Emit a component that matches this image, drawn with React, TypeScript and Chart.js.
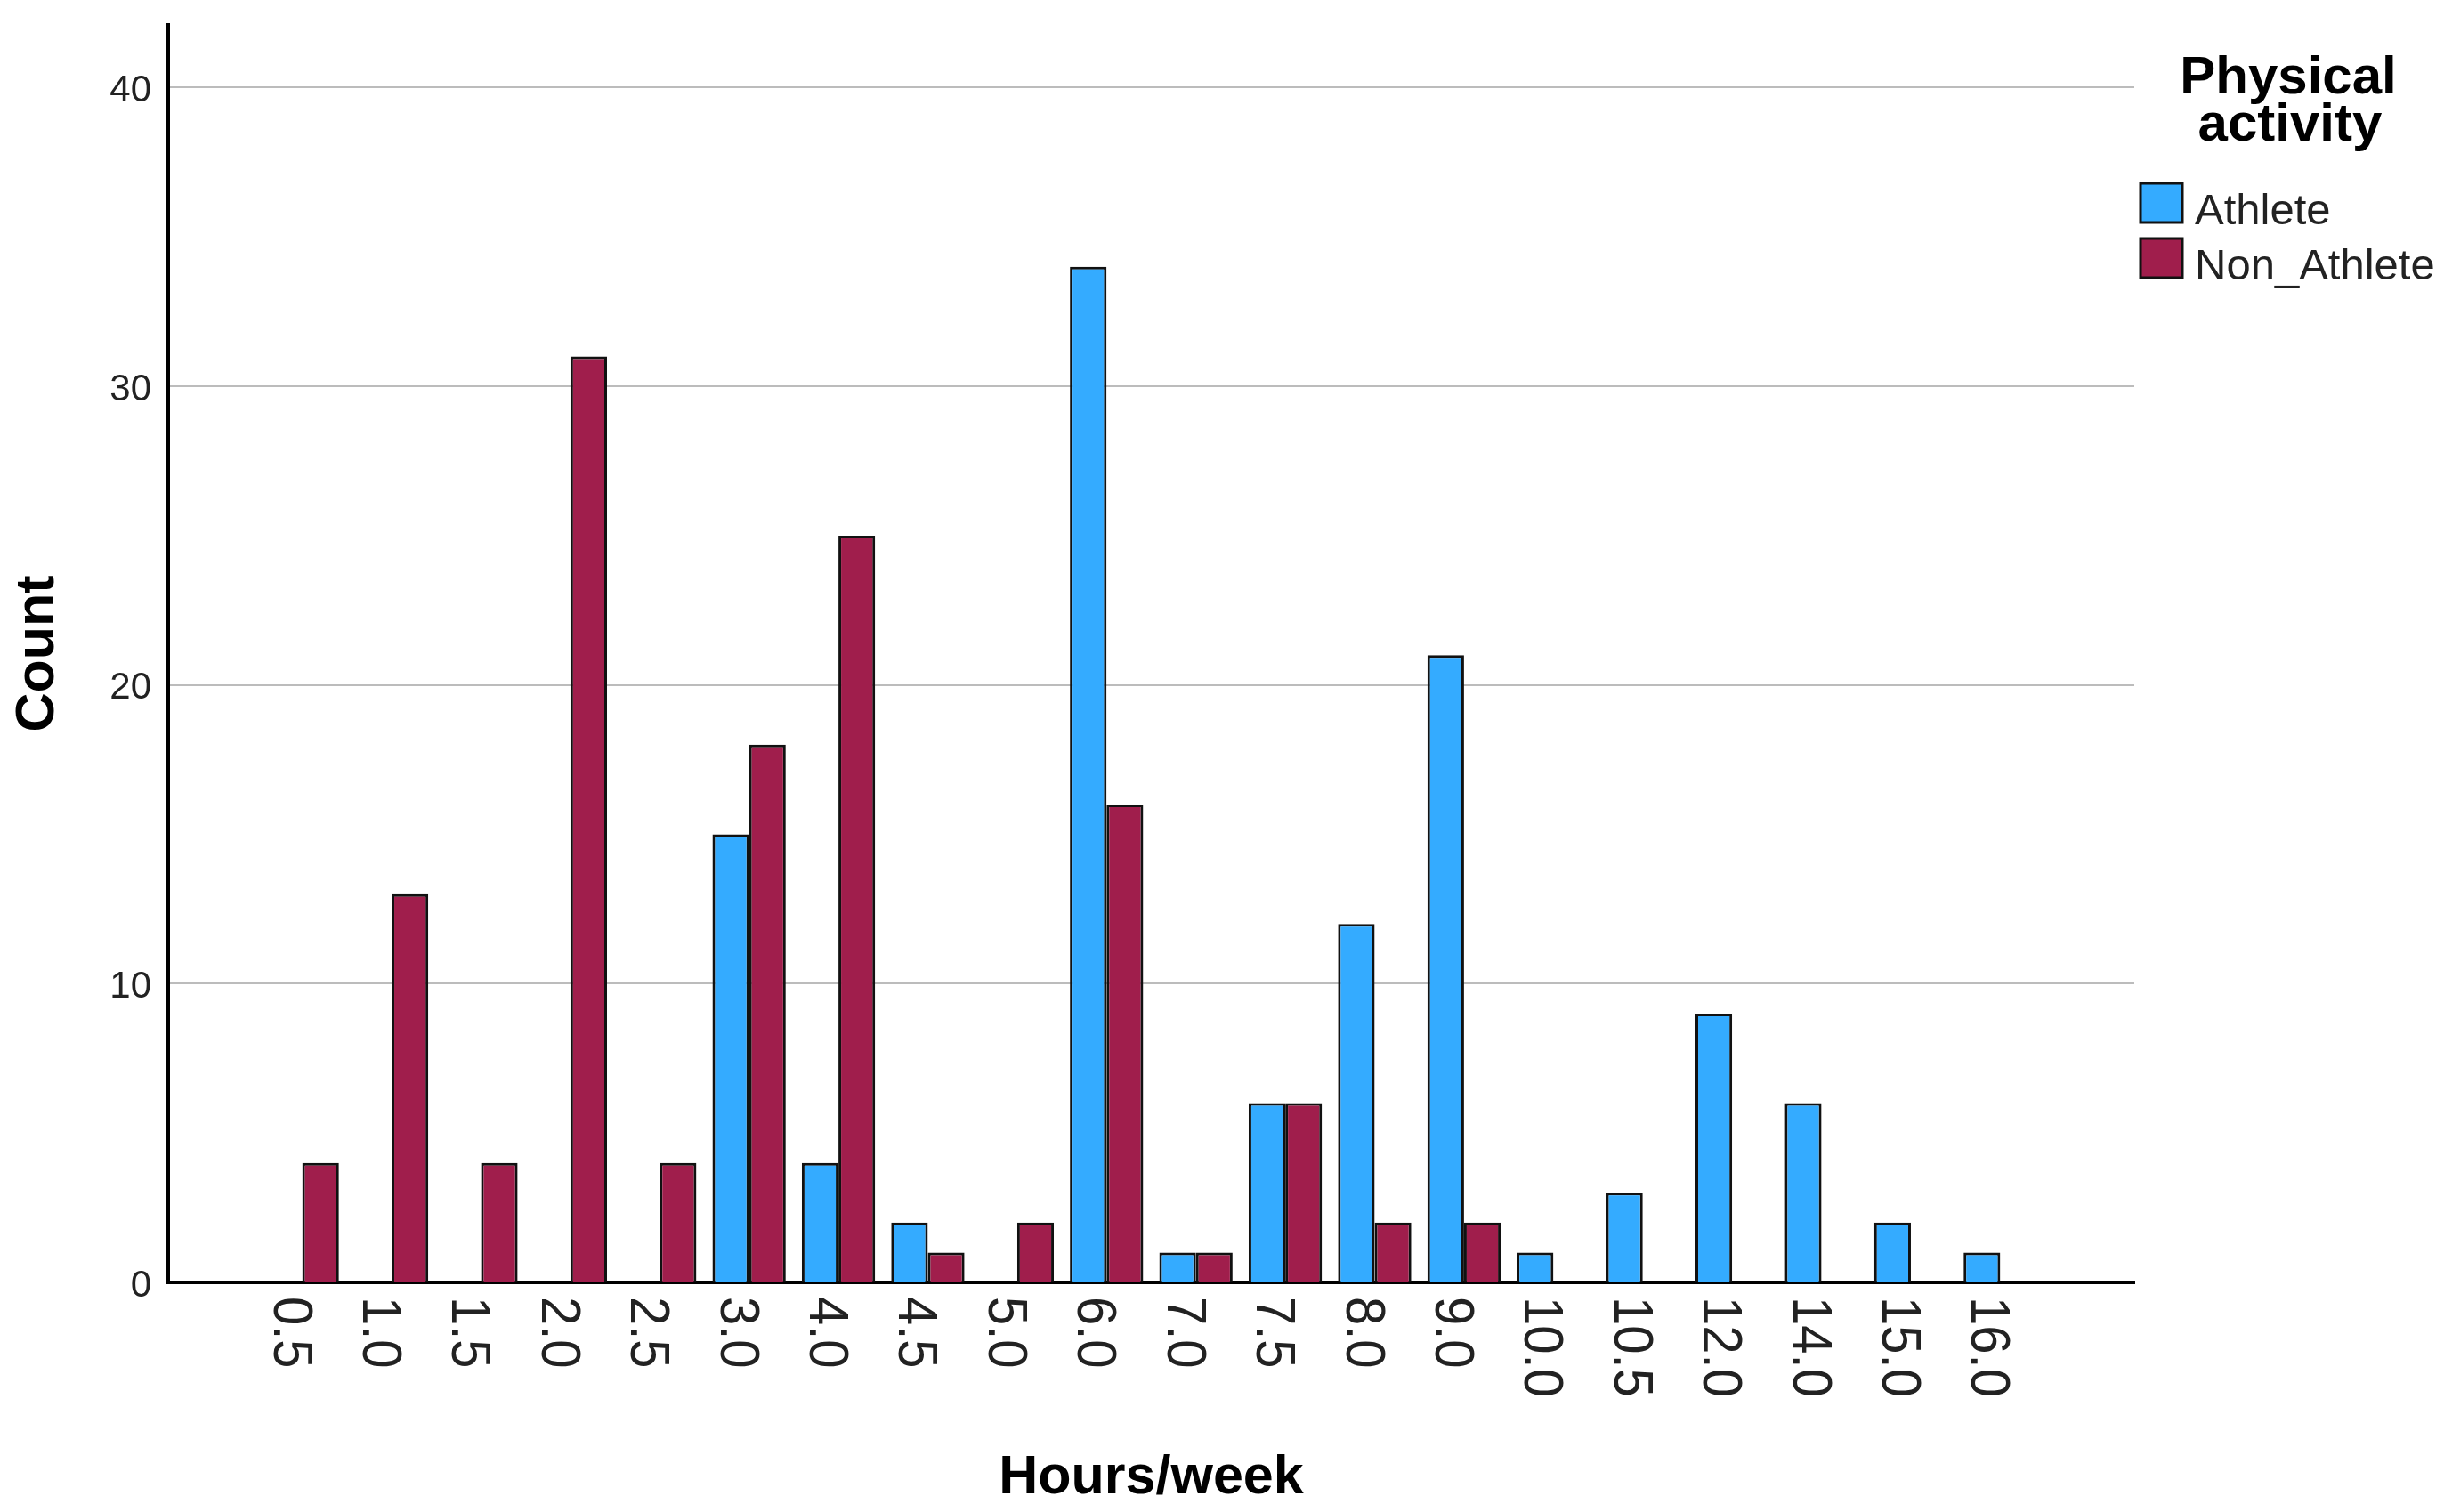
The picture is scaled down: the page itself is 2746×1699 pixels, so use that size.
import React, { useEffect, useRef } from 'react';
import { Chart, registerables } from 'chart.js';

Chart.register(...registerables);

// ---- Data ----
const categories = ['0.5', '1.0', '1.5', '2.0', '2.5', '3.0', '4.0', '4.5', '5.0', '6.0', '7.0', '7.5', '8.0', '9.0', '10.0', '10.5', '12.0', '14.0', '15.0', '16.0'];
const athlete = [null, null, null, null, null, 15, 4, 2, null, 34, 1, 6, 12, 21, 1, 3, 9, 6, 2, 1];
const nonAthlete = [4, 13, 4, 31, 4, 18, 25, 1, 2, 16, 1, 6, 2, 2, null, null, null, null, null, null];
const yTicks = [0, 10, 20, 30, 40];
const seriesNames = ['Athlete', 'Non_Athlete'];
const seriesColors = ['#34ABFF', '#A01E4C'];
const legendTitle = ['Physical', 'activity'];
const xTitle = 'Hours/week';
const yTitle = 'Count';

const FONT = '"Liberation Sans", Arial, sans-serif';

const decorPlugin = {
  id: 'decor',
  afterDraw(chart: any) {
    const ctx = chart.ctx;
    const xs = chart.scales.x;
    const area = chart.chartArea;
    ctx.save();

    // x tick labels, rotated clockwise (read top to bottom)
    ctx.fillStyle = '#222';
    ctx.font = `58px ${FONT}`;
    ctx.textAlign = 'left';
    ctx.textBaseline = 'alphabetic';
    xs.ticks.forEach((t: any) => {
      const px = xs.getPixelForValue(t.value);
      ctx.save();
      ctx.translate(px - 32, area.bottom + 16);
      ctx.rotate(Math.PI / 2);
      ctx.scale(1, 1.1);
      ctx.fillText(categories[t.value], 0, 0);
      ctx.restore();
    });

    // axis titles
    ctx.fillStyle = '#000';
    ctx.font = `bold 61px ${FONT}`;
    ctx.textAlign = 'center';
    ctx.fillText(xTitle, (area.left + area.right) / 2, 1678);
    ctx.save();
    ctx.translate(60, (area.top + area.bottom) / 2);
    ctx.rotate(-Math.PI / 2);
    ctx.fillText(yTitle, 0, 0);
    ctx.restore();

    // legend
    ctx.font = `bold 60px ${FONT}`;
    ctx.textAlign = 'center';
    ctx.fillText(legendTitle[0], 2571, 105);
    ctx.fillText(legendTitle[1], 2573, 158);

    ctx.font = `49px ${FONT}`;
    ctx.textAlign = 'left';
    const boxTops = [206, 268];
    chart.data.datasets.forEach((ds: any, i: number) => {
      const y = boxTops[i];
      ctx.fillStyle = ds.backgroundColor;
      ctx.fillRect(2405, y, 47, 44);
      ctx.lineWidth = 3;
      ctx.strokeStyle = '#111';
      ctx.strokeRect(2405, y, 47, 44);
      ctx.fillStyle = '#222';
      ctx.fillText(ds.label, 2466, y + 46);
    });

    ctx.restore();
  },
};

export default function App() {
  const ref = useRef<HTMLCanvasElement>(null);

  useEffect(() => {
    if (!ref.current) return;
    const mk = (vals: (number | null)[]) => vals.map((v, i) => ({ x: i, y: v }));
    const chart = new Chart(ref.current, {
      type: 'bar',
      data: {
        datasets: [
          {
            label: seriesNames[0],
            data: mk(athlete),
            backgroundColor: seriesColors[0],
            borderColor: '#111',
            borderWidth: 3,
            categoryPercentage: 0.82,
            barPercentage: 1.0,
          },
          {
            label: seriesNames[1],
            data: mk(nonAthlete),
            backgroundColor: seriesColors[1],
            borderColor: '#111',
            borderWidth: 3,
            categoryPercentage: 0.82,
            barPercentage: 1.0,
          },
        ],
      } as any,
      options: {
        responsive: false,
        animation: false,
        devicePixelRatio: 1,
        layout: { padding: { top: 28, right: 348, left: 0, bottom: 0 } },
        plugins: {
          legend: { display: false },
          tooltip: { enabled: false },
          title: { display: false },
        },
        scales: {
          x: {
            type: 'linear',
            offset: false,
            min: -1.5,
            max: 20.5,
            afterBuildTicks: (scale: any) => {
              scale.ticks = categories.map((_, i) => ({ value: i }));
            },
            afterFit: (scale: any) => {
              scale.height = 258;
              scale.paddingLeft = 0;
              scale.paddingRight = 0;
              scale.paddingTop = 0;
              scale.paddingBottom = 0;
            },
            ticks: { display: false },
            grid: { display: false, offset: false },
            border: { display: true, color: '#000', width: 4 },
          },
          y: {
            min: 0,
            max: 42.1,
            afterBuildTicks: (scale: any) => {
              scale.ticks = yTicks.map((v) => ({ value: v }));
            },
            afterFit: (scale: any) => {
              scale.width = 189;
              scale.paddingLeft = 0;
              scale.paddingRight = 0;
              scale.paddingTop = 0;
              scale.paddingBottom = 0;
            },
            ticks: {
              color: '#222',
              font: { size: 42, family: FONT },
              padding: 19,
              labelOffset: 4,
            },
            grid: { color: '#bcbcbc', lineWidth: 2, drawTicks: false },
            border: { display: true, color: '#000', width: 4 },
          },
        },
      } as any,
      plugins: [decorPlugin],
    });
    return () => chart.destroy();
  }, []);

  return (
    <canvas
      ref={ref}
      width={2746}
      height={1699}
      style={{ position: 'fixed', left: 0, top: 0, width: '2746px', height: '1699px', background: '#fff' }}
    />
  );
}
